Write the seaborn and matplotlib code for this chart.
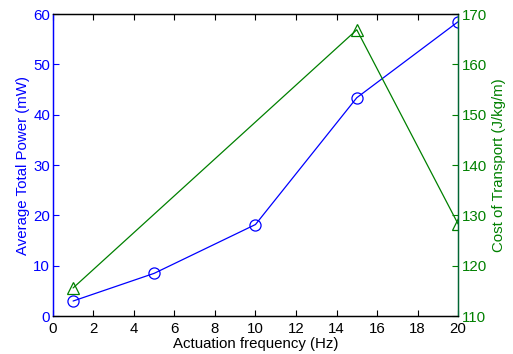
import matplotlib
matplotlib.use("Agg")
import matplotlib.pyplot as plt
import seaborn as sns
import pandas as pd

freq_power = [1, 5, 10, 15, 20]
power_mw = [3.0, 8.5, 18.2, 43.4, 58.5]
freq_cot = [1, 15, 20]
cot = [115.6, 166.9, 128.3]

sns.set_style("ticks")
plt.rcParams['font.family'] = ['Liberation Sans', 'DejaVu Sans']
plt.rcParams['font.size'] = 10.8

blue = "#0000ff"
green = "#008000"

fig = plt.figure(figsize=(5.13, 3.54), dpi=100)
ax = fig.add_axes([0.103, 0.107, 0.790, 0.853])
ax2 = ax.twinx()

df1 = pd.DataFrame({"f": freq_power, "p": power_mw})
df2 = pd.DataFrame({"f": freq_cot, "c": cot})

sns.lineplot(data=df1, x="f", y="p", ax=ax, color=blue, marker="o", markersize=8,
             markerfacecolor="none", markeredgecolor=blue, markeredgewidth=0.9, linewidth=0.9)
sns.lineplot(data=df2, x="f", y="c", ax=ax2, color=green, marker="^", markersize=8,
             markerfacecolor="none", markeredgecolor=green, markeredgewidth=0.9, linewidth=0.9)

ax.set_xlim(0, 20)
ax.set_ylim(0, 60)
ax2.set_ylim(110, 170)
ax.set_xticks(range(0, 21, 2))
ax.set_yticks(range(0, 61, 10))
ax2.set_yticks(range(110, 171, 10))

ax.set_xlabel("Actuation frequency (Hz)", color="black", labelpad=1)
ax.set_ylabel("Average Total Power (mW)", color=blue, labelpad=2)
ax2.set_ylabel("Cost of Transport (J/kg/m)", color=green, labelpad=3)

for a in (ax, ax2):
    for s in a.spines.values():
        s.set_visible(True)
        s.set_linewidth(0.9)
        s.set_color("black")
ax.spines['left'].set_color(blue)
ax2.spines['left'].set_color(blue)
ax2.spines['right'].set_color("#006633")
ax.spines['right'].set_color("#006633")

ax.tick_params(axis='x', direction='in', colors='black', top=True, length=4, pad=4)
ax.tick_params(axis='y', direction='in', colors=blue, length=4, pad=2)
ax2.tick_params(axis='y', direction='in', colors=green, length=4, pad=3)

fig.savefig("out.png", dpi=100)
